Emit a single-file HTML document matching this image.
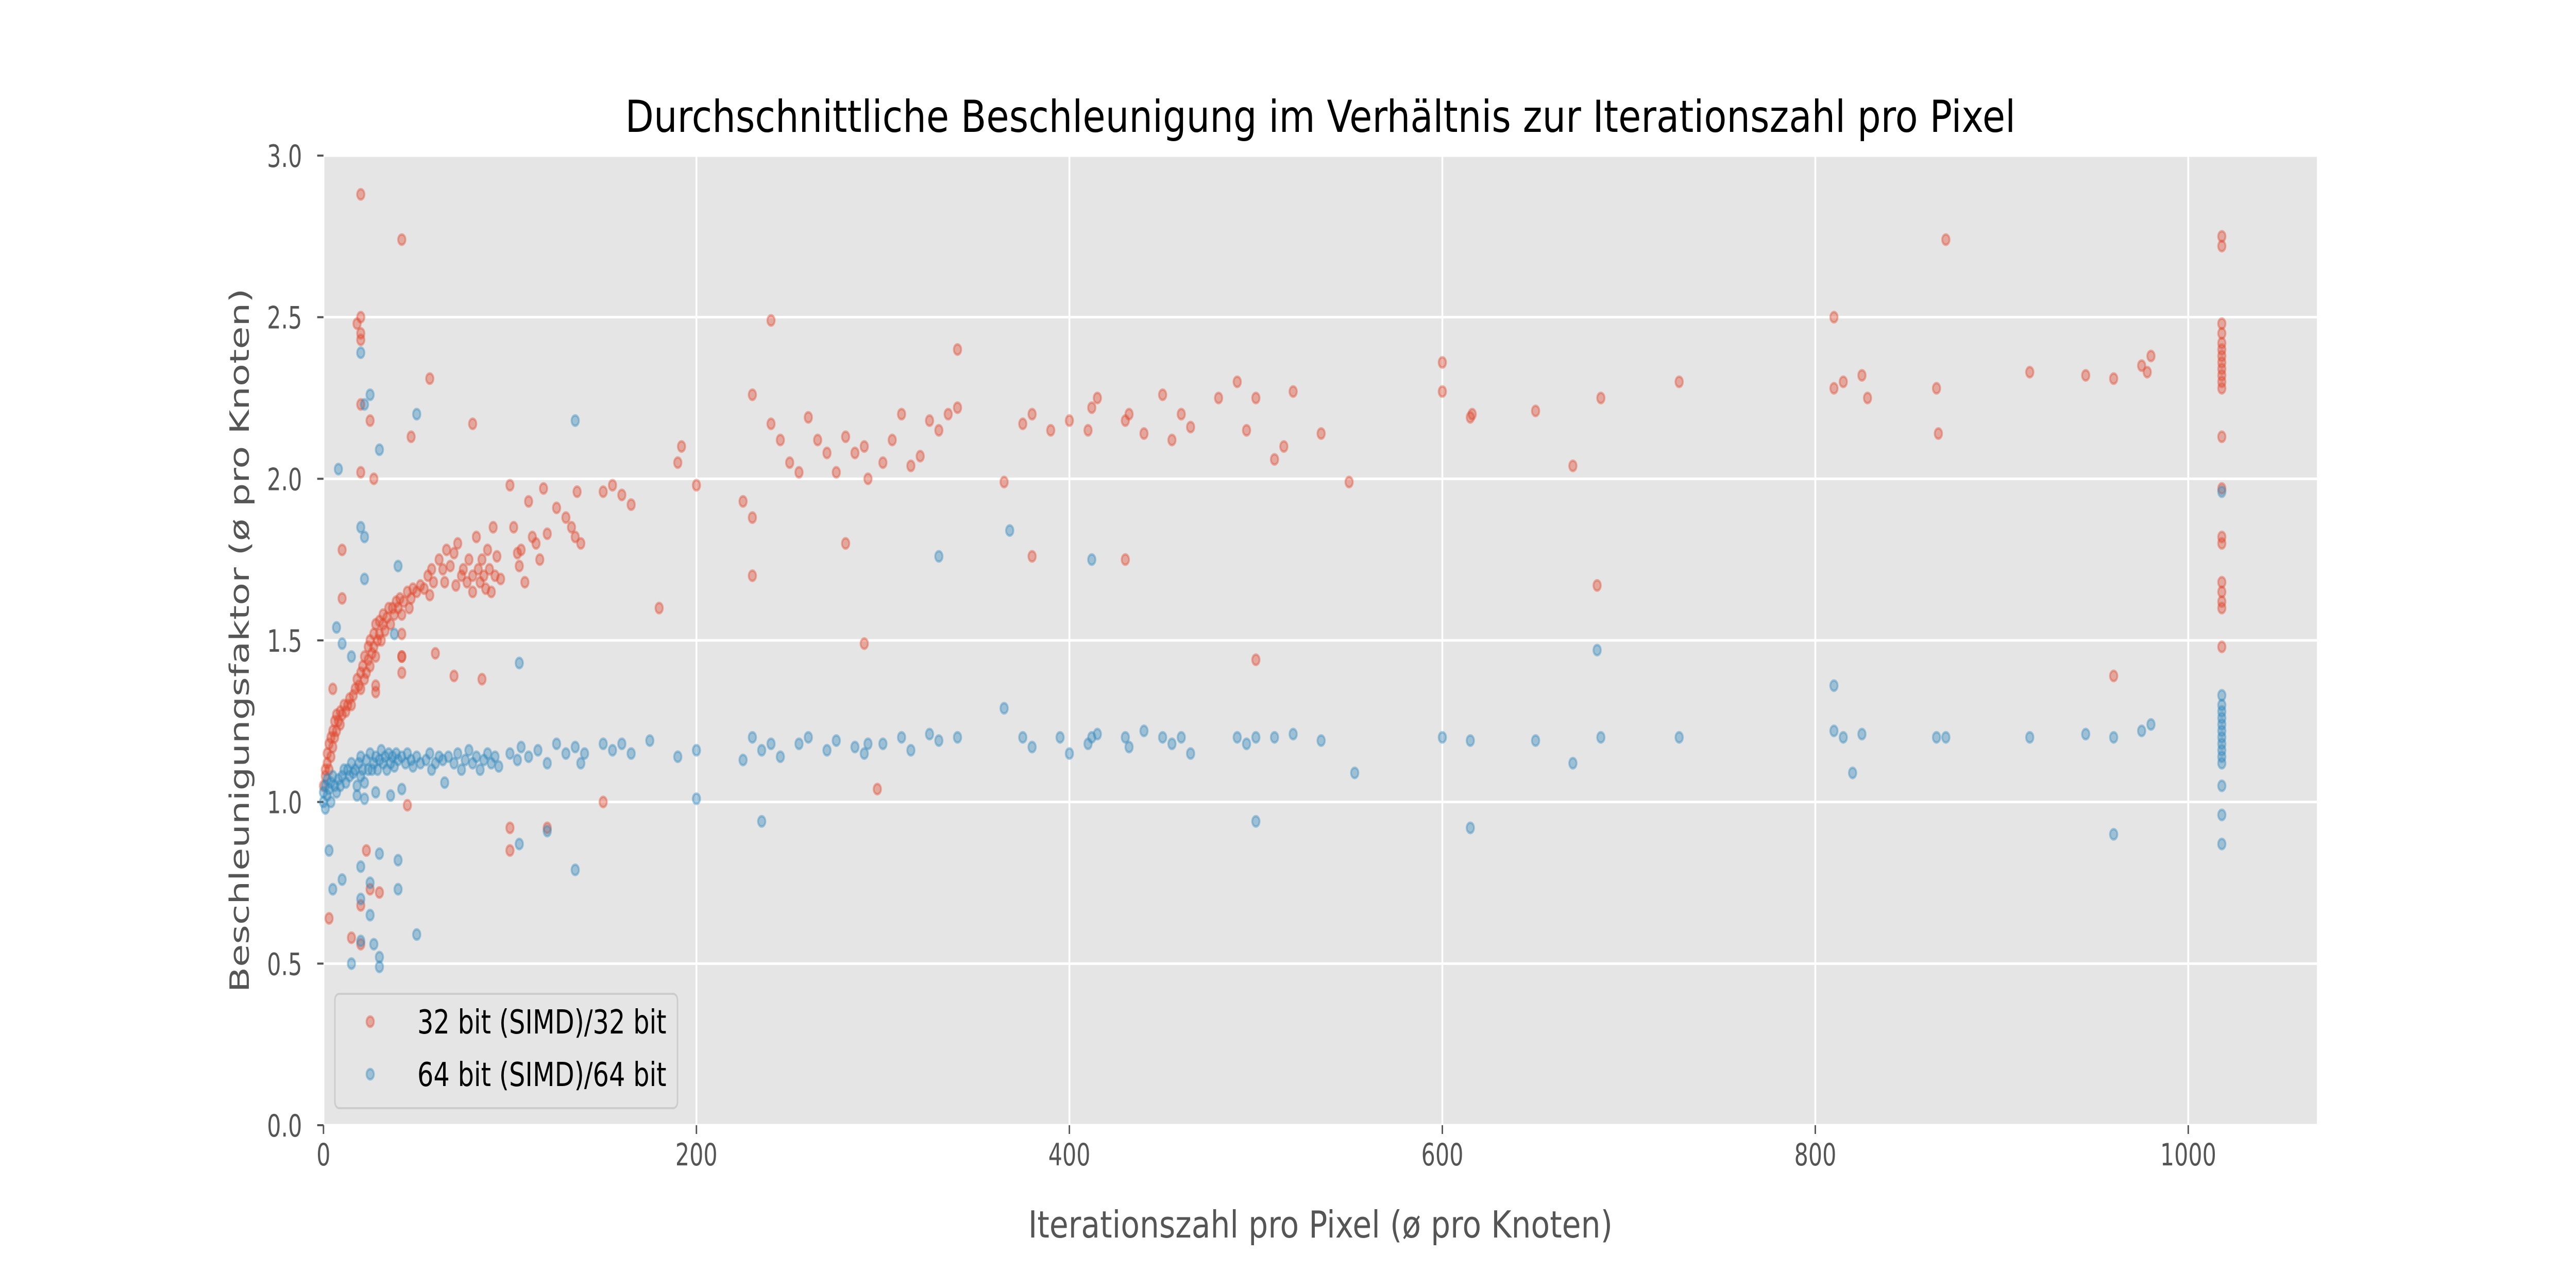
<!DOCTYPE html>
<html><head><meta charset="utf-8"><style>
html,body{margin:0;padding:0;background:#fff;overflow:hidden;width:100vw;height:100vh;}
svg{display:block;position:absolute;left:0;top:0;width:100vw;height:100vh;font-family:"DejaVu Sans","Liberation Sans",sans-serif;}
</style></head><body>
<svg id="chart" viewBox="0 0 7000 2500" preserveAspectRatio="none" xmlns="http://www.w3.org/2000/svg">
<rect x="0" y="0" width="7000" height="2500" fill="#ffffff"/>
<rect x="879" y="302" width="5417" height="1882" fill="#E5E5E5"/>
<g id="grid"></g>
<g id="ticks"></g>
<g id="marks"></g>
<text x="3588" y="256" font-size="86" text-anchor="middle" fill="#000" textLength="3778" lengthAdjust="spacingAndGlyphs">Durchschnittliche Beschleunigung im Verhältnis zur Iterationszahl pro Pixel</text>
<text x="3588" y="2402" font-size="72" text-anchor="middle" fill="#555555" textLength="1588" lengthAdjust="spacingAndGlyphs">Iterationszahl pro Pixel (ø pro Knoten)</text>
<text x="0" y="0" font-size="72" text-anchor="middle" fill="#555555" transform="translate(676,1243) rotate(-90)">Beschleunigungsfaktor (ø pro Knoten)</text>
<g>
<rect x="910" y="1929" width="931" height="222" rx="12" fill="#E5E5E5" fill-opacity="0.8" stroke="#cccccc" stroke-width="4"/>
<g>
<circle cx="1006" cy="1983" r="10" fill="#E24A33" fill-opacity="0.4" stroke="#E24A33" stroke-opacity="0.4" stroke-width="5"/>
<text x="1134" y="2006" font-size="64" fill="#000" textLength="677" lengthAdjust="spacingAndGlyphs">32 bit (SIMD)/32 bit</text>
</g>
<g>
<circle cx="1006" cy="2085" r="10" fill="#348ABD" fill-opacity="0.4" stroke="#348ABD" stroke-opacity="0.4" stroke-width="5"/>
<text x="1134" y="2108" font-size="64" fill="#000" textLength="677" lengthAdjust="spacingAndGlyphs">64 bit (SIMD)/64 bit</text>
</g>
</g>
</svg>
<script>
const xTicks = [0, 200, 400, 600, 800, 1000];
const xTickLabels = ["0", "200", "400", "600", "800", "1000"];
const yTicks = [0, 0.5, 1.0, 1.5, 2.0, 2.5, 3.0];
const yTickLabels = ["0.0", "0.5", "1.0", "1.5", "2.0", "2.5", "3.0"];

const redX = [0,1,1,2,2,3,3,4,4,5,5,6,6,7,7,8,9,9,10,11,12,13,14,15,16,17,18,19,20,20,21,22,22,23,24,24,25,25,26,27,27,28,28,29,30,30,31,32,32,33,34,35,36,37,38,39,40,41,42,43,45,46,47,48,50,52,54,56,57,58,59,62,64,65,66,68,70,71,72,74,75,77,78,80,80,82,83,84,85,86,87,88,89,90,91,92,93,95,28,28,42,42,
100,102,104,105,106,108,110,112,114,116,118,120,125,130,133,135,136,138,150,155,160,165,190,192,
200,225,230,240,245,250,255,260,265,270,275,280,285,290,292,300,305,310,315,320,325,330,335,340,
375,380,390,400,410,412,415,430,432,440,450,455,460,465,480,490,495,500,510,515,520,535,600,615,616,650,685,727,810,815,825,828,865,915,945,960,975,978,980,
1018,1018,1018,1018,1018,1018,1018,1018,1018,1018,1018,1018,1018,1018,1018,1018,1018,1018,1018,1018,1018,
20,42,20,18,20,20,20,25,57,80,20,27,10,10,42,5,42,47,60,70,85,100,100,120,3,15,20,25,30,23,20,45,150,180,230,230,240,290,280,297,340,380,430,500,550,600,670,683,810,870,866,960,365];
const redY = [1.05,1.08,1.1,1.12,1.15,1.1,1.18,1.14,1.2,1.17,1.22,1.2,1.25,1.22,1.27,1.25,1.24,1.28,1.27,1.3,1.28,1.3,1.32,1.3,1.33,1.35,1.38,1.36,1.4,1.35,1.42,1.38,1.45,1.4,1.44,1.48,1.42,1.5,1.46,1.48,1.52,1.45,1.55,1.5,1.52,1.56,1.5,1.55,1.58,1.53,1.57,1.6,1.55,1.6,1.58,1.62,1.6,1.63,1.58,1.62,1.65,1.6,1.63,1.66,1.65,1.67,1.66,1.7,1.64,1.72,1.68,1.75,1.72,1.68,1.78,1.73,1.77,1.67,1.8,1.7,1.72,1.68,1.75,1.7,1.65,1.82,1.72,1.68,1.75,1.7,1.66,1.78,1.72,1.65,1.85,1.7,1.76,1.69,1.34,1.36,1.45,1.4,
1.98,1.85,1.77,1.73,1.78,1.68,1.93,1.82,1.8,1.75,1.97,1.83,1.91,1.88,1.85,1.82,1.96,1.8,1.96,1.98,1.95,1.92,2.05,2.1,
1.98,1.93,1.88,2.17,2.12,2.05,2.02,2.19,2.12,2.08,2.02,2.13,2.08,2.1,2.0,2.05,2.12,2.2,2.04,2.07,2.18,2.15,2.2,2.22,
2.17,2.2,2.15,2.18,2.15,2.22,2.25,2.18,2.2,2.14,2.26,2.12,2.2,2.16,2.25,2.3,2.15,2.25,2.06,2.1,2.27,2.14,2.27,2.19,2.2,2.21,2.25,2.3,2.28,2.3,2.32,2.25,2.28,2.33,2.32,2.31,2.35,2.33,2.38,
2.75,2.72,2.48,2.45,2.42,2.4,2.38,2.36,2.34,2.32,2.3,2.28,2.13,1.97,1.82,1.8,1.68,1.65,1.62,1.6,1.48,
2.88,2.74,2.5,2.48,2.45,2.43,2.23,2.18,2.31,2.17,2.02,2.0,1.78,1.63,1.52,1.35,1.45,2.13,1.46,1.39,1.38,0.92,0.85,0.92,0.64,0.58,0.56,0.73,0.72,0.85,0.68,0.99,1.0,1.6,1.7,2.26,2.49,1.49,1.8,1.04,2.4,1.76,1.75,1.44,1.99,2.36,2.04,1.67,2.5,2.74,2.14,1.39,1.99];

const blueX = [0,0,1,1,2,2,3,4,4,5,6,7,8,9,10,11,12,13,14,15,16,17,18,19,20,20,21,22,23,24,25,26,27,28,29,30,31,32,33,34,35,36,37,38,39,40,42,44,45,47,48,50,52,55,57,58,60,62,64,65,67,70,72,74,76,78,80,82,84,86,88,90,92,94,18,28,36,42,22,
100,104,106,110,115,120,125,130,135,138,140,150,155,160,165,175,190,200,
225,230,235,240,245,255,260,270,275,285,290,292,300,310,315,325,330,340,
365,375,380,395,400,410,412,415,430,432,440,450,455,460,465,490,495,500,510,520,535,600,615,650,670,685,727,810,815,825,865,870,915,945,960,975,980,
1018,1018,1018,1018,1018,1018,1018,1018,1018,1018,1018,1018,1018,1018,1018,
20,25,22,50,135,30,8,20,22,40,22,7,10,15,38,105,3,5,10,20,20,25,30,40,40,20,27,30,30,15,25,50,135,105,120,200,235,330,368,412,500,553,615,683,810,820,960];
const blueY = [1.0,1.03,1.05,0.98,1.02,1.07,1.04,1.06,1.0,1.08,1.05,1.03,1.07,1.05,1.08,1.1,1.06,1.1,1.08,1.12,1.09,1.1,1.05,1.12,1.08,1.14,1.1,1.06,1.13,1.1,1.15,1.1,1.12,1.14,1.1,1.13,1.16,1.12,1.14,1.1,1.15,1.12,1.14,1.11,1.15,1.13,1.14,1.12,1.15,1.13,1.11,1.14,1.12,1.13,1.15,1.1,1.12,1.14,1.13,1.06,1.14,1.12,1.15,1.1,1.13,1.16,1.12,1.14,1.1,1.13,1.15,1.12,1.14,1.11,1.02,1.03,1.02,1.04,1.01,
1.15,1.13,1.17,1.14,1.16,1.12,1.18,1.15,1.17,1.12,1.15,1.18,1.16,1.18,1.15,1.19,1.14,1.16,
1.13,1.2,1.16,1.18,1.14,1.18,1.2,1.16,1.19,1.17,1.15,1.18,1.18,1.2,1.16,1.21,1.19,1.2,
1.29,1.2,1.17,1.2,1.15,1.18,1.2,1.21,1.2,1.17,1.22,1.2,1.18,1.2,1.15,1.2,1.18,1.2,1.2,1.21,1.19,1.2,1.19,1.19,1.12,1.2,1.2,1.22,1.2,1.21,1.2,1.2,1.2,1.21,1.2,1.22,1.24,
1.33,1.3,1.28,1.26,1.24,1.22,1.2,1.18,1.16,1.14,1.12,1.05,0.96,0.87,1.96,
2.39,2.26,2.23,2.2,2.18,2.09,2.03,1.85,1.82,1.73,1.69,1.54,1.49,1.45,1.52,1.43,0.85,0.73,0.76,0.8,0.7,0.75,0.84,0.82,0.73,0.57,0.56,0.52,0.49,0.5,0.65,0.59,0.79,0.87,0.91,1.01,0.94,1.76,1.84,1.75,0.94,1.09,0.92,1.47,1.36,1.09,0.9];

const X0 = 879, X1 = 6296, Y0 = 2184, Y1 = 302;
const XMAX = 1069, YMAX = 3.0;
function sx(v){ return X0 + v / XMAX * (X1 - X0); }
function sy(v){ return Y0 - v / YMAX * (Y0 - Y1); }
const NS = "http://www.w3.org/2000/svg";
const grid = document.getElementById('grid');
const ticks = document.getElementById('ticks');
const marks = document.getElementById('marks');

xTicks.forEach((v, i) => {
  const x = sx(v);
  const gl = document.createElementNS(NS, 'line');
  
  
  gl.setAttribute('x1', x); gl.setAttribute('x2', x);
  gl.setAttribute('y1', Y1); gl.setAttribute('y2', Y0);
  gl.setAttribute('stroke', '#ffffff'); gl.setAttribute('stroke-width', '5');
  grid.appendChild(gl);
  const tk = document.createElementNS(NS, 'line');
  
  
  tk.setAttribute('x1', x); tk.setAttribute('x2', x);
  tk.setAttribute('y1', Y0); tk.setAttribute('y2', Y0 + 17);
  tk.setAttribute('stroke', '#555555'); tk.setAttribute('stroke-width', '4');
  ticks.appendChild(tk);
  const t = document.createElementNS(NS, 'text');
  
  
  t.setAttribute('x', x); t.setAttribute('y', 2262);
  t.setAttribute('text-anchor', 'middle');
  t.setAttribute('font-size', '60'); t.setAttribute('fill', '#555555');
  t.textContent = xTickLabels[i];
  ticks.appendChild(t);
});
yTicks.forEach((v, i) => {
  const y = sy(v);
  const gl = document.createElementNS(NS, 'line');
  
  
  gl.setAttribute('x1', X0); gl.setAttribute('x2', X1);
  gl.setAttribute('y1', y); gl.setAttribute('y2', y);
  gl.setAttribute('stroke', '#ffffff'); gl.setAttribute('stroke-width', '5');
  grid.appendChild(gl);
  const tk = document.createElementNS(NS, 'line');
  
  
  tk.setAttribute('x1', X0 - 17); tk.setAttribute('x2', X0);
  tk.setAttribute('y1', y); tk.setAttribute('y2', y);
  tk.setAttribute('stroke', '#555555'); tk.setAttribute('stroke-width', '4');
  ticks.appendChild(tk);
  const t = document.createElementNS(NS, 'text');
  
  
  t.setAttribute('x', 821); t.setAttribute('y', y + 22);
  t.setAttribute('text-anchor', 'end');
  t.setAttribute('font-size', '60'); t.setAttribute('fill', '#555555');
  t.textContent = yTickLabels[i];
  ticks.appendChild(t);
});

function drawSeries(xs, ys, color, name){
  const g = document.createElementNS(NS, 'g');
  
  
  for (let i = 0; i < xs.length; i++) {
    const c = document.createElementNS(NS, 'circle');
    
    
    c.setAttribute('cx', sx(xs[i])); c.setAttribute('cy', sy(ys[i]));
    c.setAttribute('r', '10');
    c.setAttribute('fill', color); c.setAttribute('fill-opacity', '0.4');
    c.setAttribute('stroke', color); c.setAttribute('stroke-opacity', '0.4');
    c.setAttribute('stroke-width', '5');
    g.appendChild(c);
  }
  marks.appendChild(g);
}
drawSeries(redX, redY, '#E24A33', 'series-32bit');
drawSeries(blueX, blueY, '#348ABD', 'series-64bit');
</script>
</body></html>
